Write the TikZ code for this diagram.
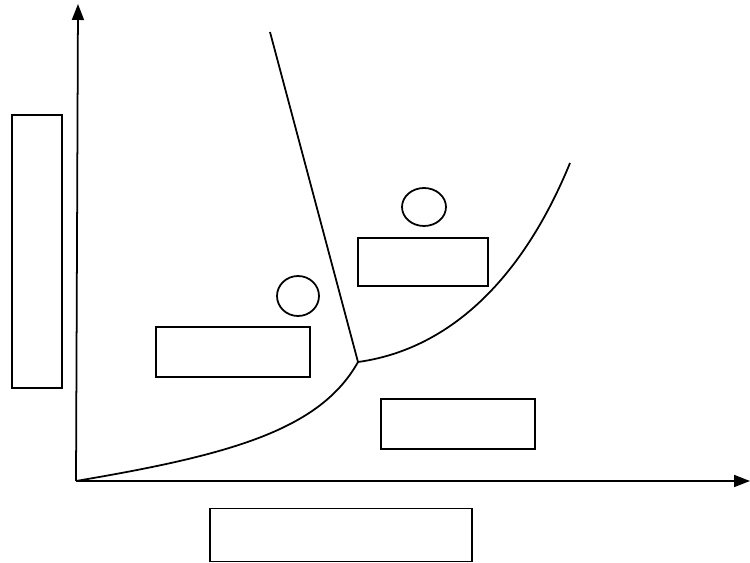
\documentclass[tikz,border=0pt]{standalone}
\usetikzlibrary{arrows.meta,shapes.geometric}
\begin{document}
\begin{tikzpicture}[x=0.02cm, y=-0.02cm, line width=1pt,
  box/.style={draw, rectangle, inner sep=0pt},
  blob/.style={draw, ellipse, inner sep=0pt},
  axis/.style={-{Triangle[length=0.32cm,width=0.24cm]}}]
\useasboundingbox (0,0) rectangle (750,563);

\coordinate (o) at (76,481);
\coordinate (ytop) at (78,4);
\coordinate (xend) at (750,481);
\coordinate (tp) at (358,362);
\coordinate (lt) at (270,32);
\coordinate (rt) at (570,163);

\node[box, minimum width=1cm, minimum height=5.46cm] (ylab) at (37,251.5) {};
\node[box, minimum width=5.24cm, minimum height=1.06cm] (xlab) at (341,535) {};
\node[box, minimum width=3.08cm, minimum height=1cm] (left) at (233,352) {};
\node[box, minimum width=2.6cm, minimum height=0.96cm] (upper) at (423,262) {};
\node[box, minimum width=3.08cm, minimum height=1cm] (lower) at (458,424) {};
\node[blob, minimum width=0.88cm, minimum height=0.76cm] (dotb) at (424,207) {};
\node[blob, minimum width=0.84cm, minimum height=0.8cm] (dota) at (298,296) {};

\draw[axis] (o) -- (ytop);
\draw[axis] (o) -- (xend);

\draw (o) .. controls (230,455) and (320,430) .. (tp);
\draw (tp) .. controls (445,350) and (520,285) .. (rt);
\draw (lt) -- (tp);

\end{tikzpicture}
\end{document}
